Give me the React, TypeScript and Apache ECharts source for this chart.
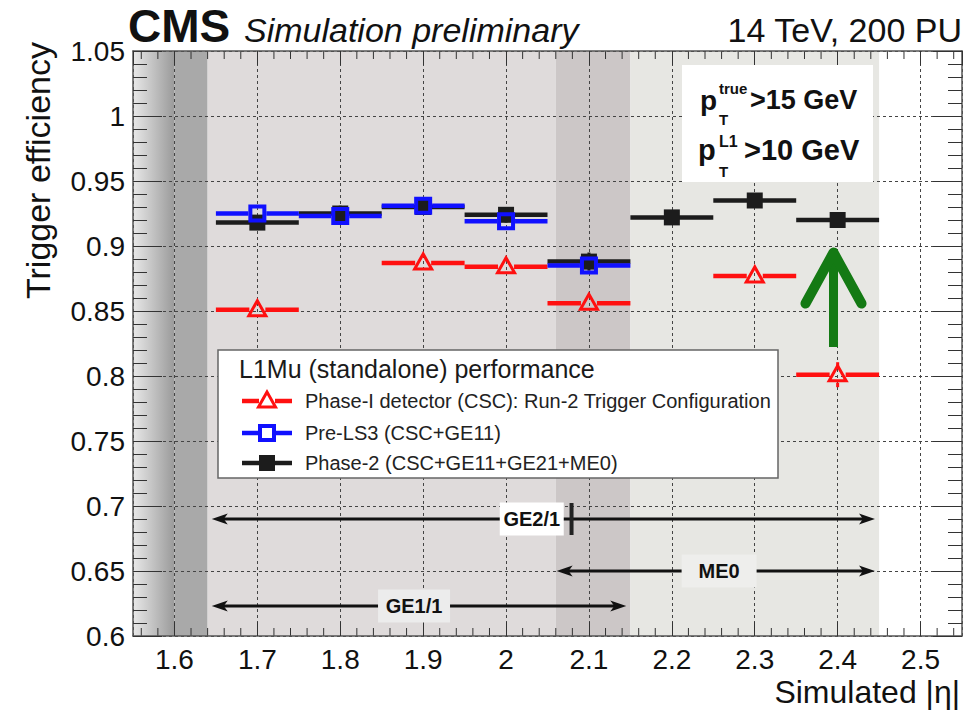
import React, { useEffect, useRef } from 'react';
import * as echarts from 'echarts';

const FONT = '"Liberation Sans", Arial, Helvetica, sans-serif';

// axis ranges
const etaMin = 1.55;
const etaMax = 2.55;
const effMin = 0.6;
const effMax = 1.05;

// |eta| bins (centre) and half width
const etaBins = [1.7, 1.8, 1.9, 2.0, 2.1, 2.2, 2.3, 2.4];
const halfBin = 0.05;

// trigger efficiency per configuration
const phase1Eff = [0.851, null, 0.887, 0.884, 0.856, null, 0.877, 0.801];
const phase1Err = [0.004, null, 0.004, 0.004, 0.004, null, 0.004, 0.0096];
const preLS3Eff = [0.925, 0.923, 0.931, 0.919, 0.885, null, null, null];
const preLS3Err = [0.004, 0.004, 0.004, 0.004, 0.004, null, null, null];
const phase2Eff = [0.918, 0.925, 0.930, 0.924, 0.888, 0.922, 0.935, 0.920];
const phase2Err = [0.005, 0.006, 0.005, 0.006, 0.007, 0.005, 0.005, 0.005];

const seriesNames = [
  'Phase-I detector (CSC): Run-2 Trigger Configuration',
  'Pre-LS3 (CSC+GE11)',
  'Phase-2 (CSC+GE11+GE21+ME0)',
];
const seriesColors = ['#ff1010', '#1010ff', '#1c1c1c'];

// shaded detector regions in |eta|
const bandFrom = [1.55, 1.6, 1.64, 2.06, 2.15];
const bandTo = [1.6, 1.64, 2.06, 2.15, 2.45];
const bandFills: any[] = [
  new echarts.graphic.LinearGradient(0, 0, 1, 0, [
    { offset: 0, color: '#e8e8e8' },
    { offset: 1, color: '#9a9a9a' },
  ]),
  '#a9a9a9',
  '#dfdbdb',
  '#ccc7c7',
  '#e7e7e3',
];

// station coverage arrows
const spanLabels = ['GE2/1', 'ME0', 'GE1/1'];
const spanFrom = [1.645, 2.061, 1.645];
const spanTo = [2.445, 2.445, 2.145];
const spanLevel = [0.69, 0.65, 0.623];
const spanLabelAt = [2.031, 2.257, 1.889];
const spanEdgeAt = [2.079, null, null];
const spanBoxWidth = [64, 75, 72];
const spanBoxFill = ['#ffffff', '#eeeeec', '#ececec'];

// improvement arrow at the last bin
const gainEta = 2.395;
const gainFrom = 0.8223;
const gainTo = 0.895;
const GREEN = '#147a14';

// x minor ticks every 0.02 (drawn on both horizontal frame edges)
const xMinorTicks: number[] = [];
for (let k = 78; k <= 127; k++) {
  if (k % 5 !== 0) xMinorTicks.push(Math.round(k * 2) / 100);
}

type Kind = 'triangle' | 'openSquare' | 'square';
const seriesKinds: Kind[] = ['triangle', 'openSquare', 'square'];
const markerGap: Record<Kind, number> = { triangle: 8, openSquare: 9, square: 0 };

function markerEls(kind: Kind, cx: number, cy: number, color: string, z?: number): any[] {
  const zp = z == null ? {} : { z };
  if (kind === 'triangle') {
    return [
      {
        type: 'polygon',
        ...zp,
        shape: { points: [[cx, cy - 9], [cx - 8.5, cy + 6], [cx + 8.5, cy + 6]] },
        style: { fill: 'none', stroke: color, lineWidth: 3 },
      },
    ];
  }
  if (kind === 'openSquare') {
    return [
      {
        type: 'rect',
        ...zp,
        shape: { x: cx - 7, y: cy - 7, width: 14, height: 14 },
        style: { fill: 'none', stroke: color, lineWidth: 4 },
      },
    ];
  }
  return [
    {
      type: 'rect',
      ...zp,
      shape: { x: cx - 8, y: cy - 8, width: 16, height: 16 },
      style: { fill: color },
    },
  ];
}

function seg(x1: number, y1: number, x2: number, y2: number, color: string, w: number, z?: number): any {
  return {
    type: 'line',
    ...(z == null ? {} : { z }),
    shape: { x1, y1, x2, y2 },
    style: { stroke: color, lineWidth: w, fill: 'none' },
  };
}

function errorBarSeries(idx: number, values: (number | null)[], errs: (number | null)[], z: number): any {
  const color = seriesColors[idx];
  const kind = seriesKinds[idx];
  const data: number[][] = [];
  etaBins.forEach((eta, i) => {
    const v = values[i];
    if (v != null) data.push([eta, v, errs[i] ?? 0]);
  });
  return {
    type: 'custom',
    name: seriesNames[idx],
    z,
    silent: true,
    data,
    encode: { x: 0, y: 1 },
    renderItem: (_p: any, api: any) => {
      const eta = api.value(0);
      const v = api.value(1);
      const e = api.value(2);
      const c = api.coord([eta, v]);
      const l = api.coord([eta - halfBin, v]);
      const r = api.coord([eta + halfBin, v]);
      const t = api.coord([eta, v + e]);
      const b = api.coord([eta, v - e]);
      const g = markerGap[kind];
      const children: any[] = [
        seg(l[0], c[1], c[0] - g, c[1], color, 4.5),
        seg(c[0] + g, c[1], r[0], c[1], color, 4.5),
      ];
      if (c[1] - t[1] > g) {
        children.push(seg(c[0], t[1], c[0], c[1] - g, color, 3));
        children.push(seg(c[0], c[1] + g, c[0], b[1], color, 3));
      }
      children.push(...markerEls(kind, c[0], c[1], color));
      return { type: 'group', children };
    },
  };
}

function txt(text: string, x: number, y: number, font: string, align = 'left', extra: any = {}): any {
  return {
    type: 'text',
    x,
    y,
    z: 100,
    silent: true,
    ...extra,
    style: {
      text,
      font,
      fill: extra.fill || '#111',
      align,
      textAlign: align,
      verticalAlign: 'middle',
      textVerticalAlign: 'middle',
    },
  };
}

function buildOption(): any {
  const axisLineStyle = { color: '#555', width: 1.5 };
  const tickStyle = { color: '#333', width: 1 };
  const gridDots = { color: '#444', width: 1, type: [3, 3] };

  const xBase = {
    type: 'value',
    min: etaMin,
    max: etaMax,
    splitNumber: 10,
    z: 1,
    axisLine: { show: true, onZero: false, lineStyle: axisLineStyle },
    axisTick: { show: true, inside: true, length: 14, lineStyle: tickStyle },
    minorTick: { show: false },
    splitLine: { show: false },
  };
  const yBase = {
    type: 'value',
    min: effMin,
    max: effMax,
    interval: 0.05,
    z: 1,
    axisLine: { show: true, onZero: false, lineStyle: axisLineStyle },
    axisTick: { show: true, inside: true, length: 29, lineStyle: tickStyle },
    minorTick: { show: true, splitNumber: 5, length: 14, lineStyle: tickStyle },
    splitLine: { show: false },
  };

  // legend drawn as graphic elements
  const legendEls: any[] = [
    {
      type: 'rect',
      z: 100,
      silent: true,
      shape: { x: 218, y: 350, width: 560, height: 128 },
      style: { fill: '#ffffff', stroke: '#666', lineWidth: 1.5 },
    },
    txt('L1Mu (standalone) performance', 239, 369, `25px ${FONT}`, 'left', { fill: '#1a1a1a' }),
  ];
  const rowY = [401, 433, 463];
  seriesNames.forEach((name, i) => {
    const y = rowY[i];
    const g = markerGap[seriesKinds[i]];
    legendEls.push(seg(242, y, 267 - g, y, seriesColors[i], 4.5, 101));
    legendEls.push(seg(267 + g, y, 292, y, seriesColors[i], 4.5, 101));
    legendEls.push(...markerEls(seriesKinds[i], 267, y, seriesColors[i], 102));
    legendEls.push(txt(name, 305, y, `20px ${FONT}`, 'left', { fill: '#222' }));
  });

  const headerEls: any[] = [
    txt('CMS', 128, 26, `bold 46px ${FONT}`),
    txt('Simulation preliminary', 244, 30, `italic 34px ${FONT}`),
    txt('14 TeV, 200 PU', 962, 30, `34px ${FONT}`, 'right'),
    txt('Trigger efficiency', 38, 42, `34px ${FONT}`, 'right', { rotation: Math.PI / 2 }),
    txt('Simulated |η|', 960, 692, `32px ${FONT}`, 'right'),
    {
      type: 'rect',
      z: 99,
      silent: true,
      shape: { x: 682, y: 65, width: 191, height: 117 },
      style: { fill: '#ffffff' },
    },
    txt('p', 700, 100, `bold 28px ${FONT}`),
    txt('true', 719, 88, `bold 15px ${FONT}`),
    txt('T', 719, 119, `bold 15px ${FONT}`),
    txt('>15 GeV', 750, 100, `bold 27px ${FONT}`),
    txt('p', 698, 150, `bold 29px ${FONT}`),
    txt('L1', 719, 141, `bold 16px ${FONT}`),
    txt('T', 719, 171, `bold 15px ${FONT}`),
    txt('>10 GeV', 744, 150, `bold 29px ${FONT}`),
  ];

  return {
    animation: false,
    backgroundColor: '#ffffff',
    textStyle: { fontFamily: FONT },
    grid: { left: 133, right: 18, top: 51, bottom: 74, containLabel: false },
    xAxis: [
      {
        ...xBase,
        position: 'bottom',
        axisLabel: {
          show: true,
          fontSize: 28,
          color: '#111',
          margin: 9,
          fontFamily: FONT,
          showMinLabel: false,
          showMaxLabel: false,
        },
        splitLine: { show: true, lineStyle: gridDots },
      },
      { ...xBase, position: 'top', axisLabel: { show: false } },
    ],
    yAxis: [
      {
        ...yBase,
        position: 'left',
        axisLabel: { show: true, fontSize: 28, color: '#111', margin: 8, fontFamily: FONT },
        splitLine: { show: true, lineStyle: gridDots },
      },
      { ...yBase, position: 'right', axisLabel: { show: false } },
    ],
    series: [
      {
        type: 'custom',
        z: 0,
        silent: true,
        data: bandFrom.map((f, i) => [f, bandTo[i], effMin, effMax]),
        encode: { x: [0, 1], y: [2, 3] },
        renderItem: (params: any, api: any) => {
          const a = api.coord([api.value(0), api.value(3)]);
          const b = api.coord([api.value(1), api.value(2)]);
          return {
            type: 'rect',
            shape: { x: a[0], y: a[1], width: b[0] - a[0], height: b[1] - a[1] },
            style: { fill: bandFills[params.dataIndex] },
          };
        },
      },
      {
        type: 'custom',
        z: 1,
        silent: true,
        data: xMinorTicks.map((v) => [v, effMin, effMax]),
        encode: { x: 0, y: [1, 2] },
        renderItem: (_p: any, api: any) => {
          const lo = api.coord([api.value(0), api.value(1)]);
          const hi = api.coord([api.value(0), api.value(2)]);
          return {
            type: 'group',
            children: [
              seg(lo[0], lo[1], lo[0], lo[1] - 8, '#333', 1),
              seg(hi[0], hi[1], hi[0], hi[1] + 8, '#333', 1),
            ],
          };
        },
      },
      {
        type: 'custom',
        z: 3,
        silent: true,
        data: spanLabels.map((_, i) => [spanFrom[i], spanTo[i], spanLevel[i], spanLabelAt[i]]),
        encode: { x: [0, 1, 3], y: 2 },
        renderItem: (params: any, api: any) => {
          const i = params.dataIndex;
          const a = api.coord([api.value(0), api.value(2)]);
          const b = api.coord([api.value(1), api.value(2)]);
          const m = api.coord([api.value(3), api.value(2)]);
          const y = a[1];
          const hl = 16;
          const hw = 5.5;
          const children: any[] = [
            seg(a[0] + 8, y, b[0] - 8, y, '#111', 3),
            {
              type: 'polygon',
              shape: { points: [[a[0], y], [a[0] + hl, y - hw], [a[0] + hl - 4, y], [a[0] + hl, y + hw]] },
              style: { fill: '#111' },
            },
            {
              type: 'polygon',
              shape: { points: [[b[0], y], [b[0] - hl, y - hw], [b[0] - hl + 4, y], [b[0] - hl, y + hw]] },
              style: { fill: '#111' },
            },
            {
              type: 'rect',
              shape: { x: m[0] - spanBoxWidth[i] / 2, y: y - 16.5, width: spanBoxWidth[i], height: 33 },
              style: { fill: spanBoxFill[i] },
            },
            {
              type: 'text',
              style: {
                text: spanLabels[i],
                x: m[0],
                y: y,
                font: `bold 20px ${FONT}`,
                fill: '#111',
                align: 'center',
                verticalAlign: 'middle',
              },
            },
          ];
          const edge = spanEdgeAt[i];
          if (edge != null) {
            const e = api.coord([edge, api.value(2)]);
            children.push({
              type: 'rect',
              shape: { x: e[0] - 2, y: y - 16, width: 4, height: 32 },
              style: { fill: '#222' },
            });
          }
          return { type: 'group', children };
        },
      },
      errorBarSeries(0, phase1Eff, phase1Err, 4),
      errorBarSeries(2, phase2Eff, phase2Err, 5),
      errorBarSeries(1, preLS3Eff, preLS3Err, 6),
      {
        type: 'custom',
        z: 7,
        silent: true,
        data: [[gainEta, gainFrom, gainTo]],
        encode: { x: 0, y: [1, 2] },
        renderItem: (_p: any, api: any) => {
          const b = api.coord([api.value(0), api.value(1)]);
          const t = api.coord([api.value(0), api.value(2)]);
          return {
            type: 'group',
            children: [
              {
                type: 'line',
                shape: { x1: b[0], y1: b[1], x2: t[0], y2: t[1] + 4 },
                style: { stroke: GREEN, lineWidth: 9, lineCap: 'butt', fill: 'none' },
              },
              {
                type: 'polyline',
                shape: { points: [[t[0] - 28, t[1] + 51], [t[0], t[1]], [t[0] + 28, t[1] + 51]] },
                style: { stroke: GREEN, lineWidth: 10, lineCap: 'round', lineJoin: 'round', fill: 'none' },
              },
            ],
          };
        },
      },
    ],
    graphic: { elements: [...headerEls, ...legendEls] },
  };
}

export default function App() {
  const ref = useRef<HTMLDivElement>(null);
  useEffect(() => {
    if (!ref.current) return;
    const chart = echarts.init(ref.current, undefined, { renderer: 'svg' });
    chart.setOption(buildOption());
    return () => chart.dispose();
  }, []);
  return (
    <div
      ref={ref}
      style={{ position: 'absolute', left: 0, top: 0, width: 980, height: 710, background: '#fff' }}
    />
  );
}
